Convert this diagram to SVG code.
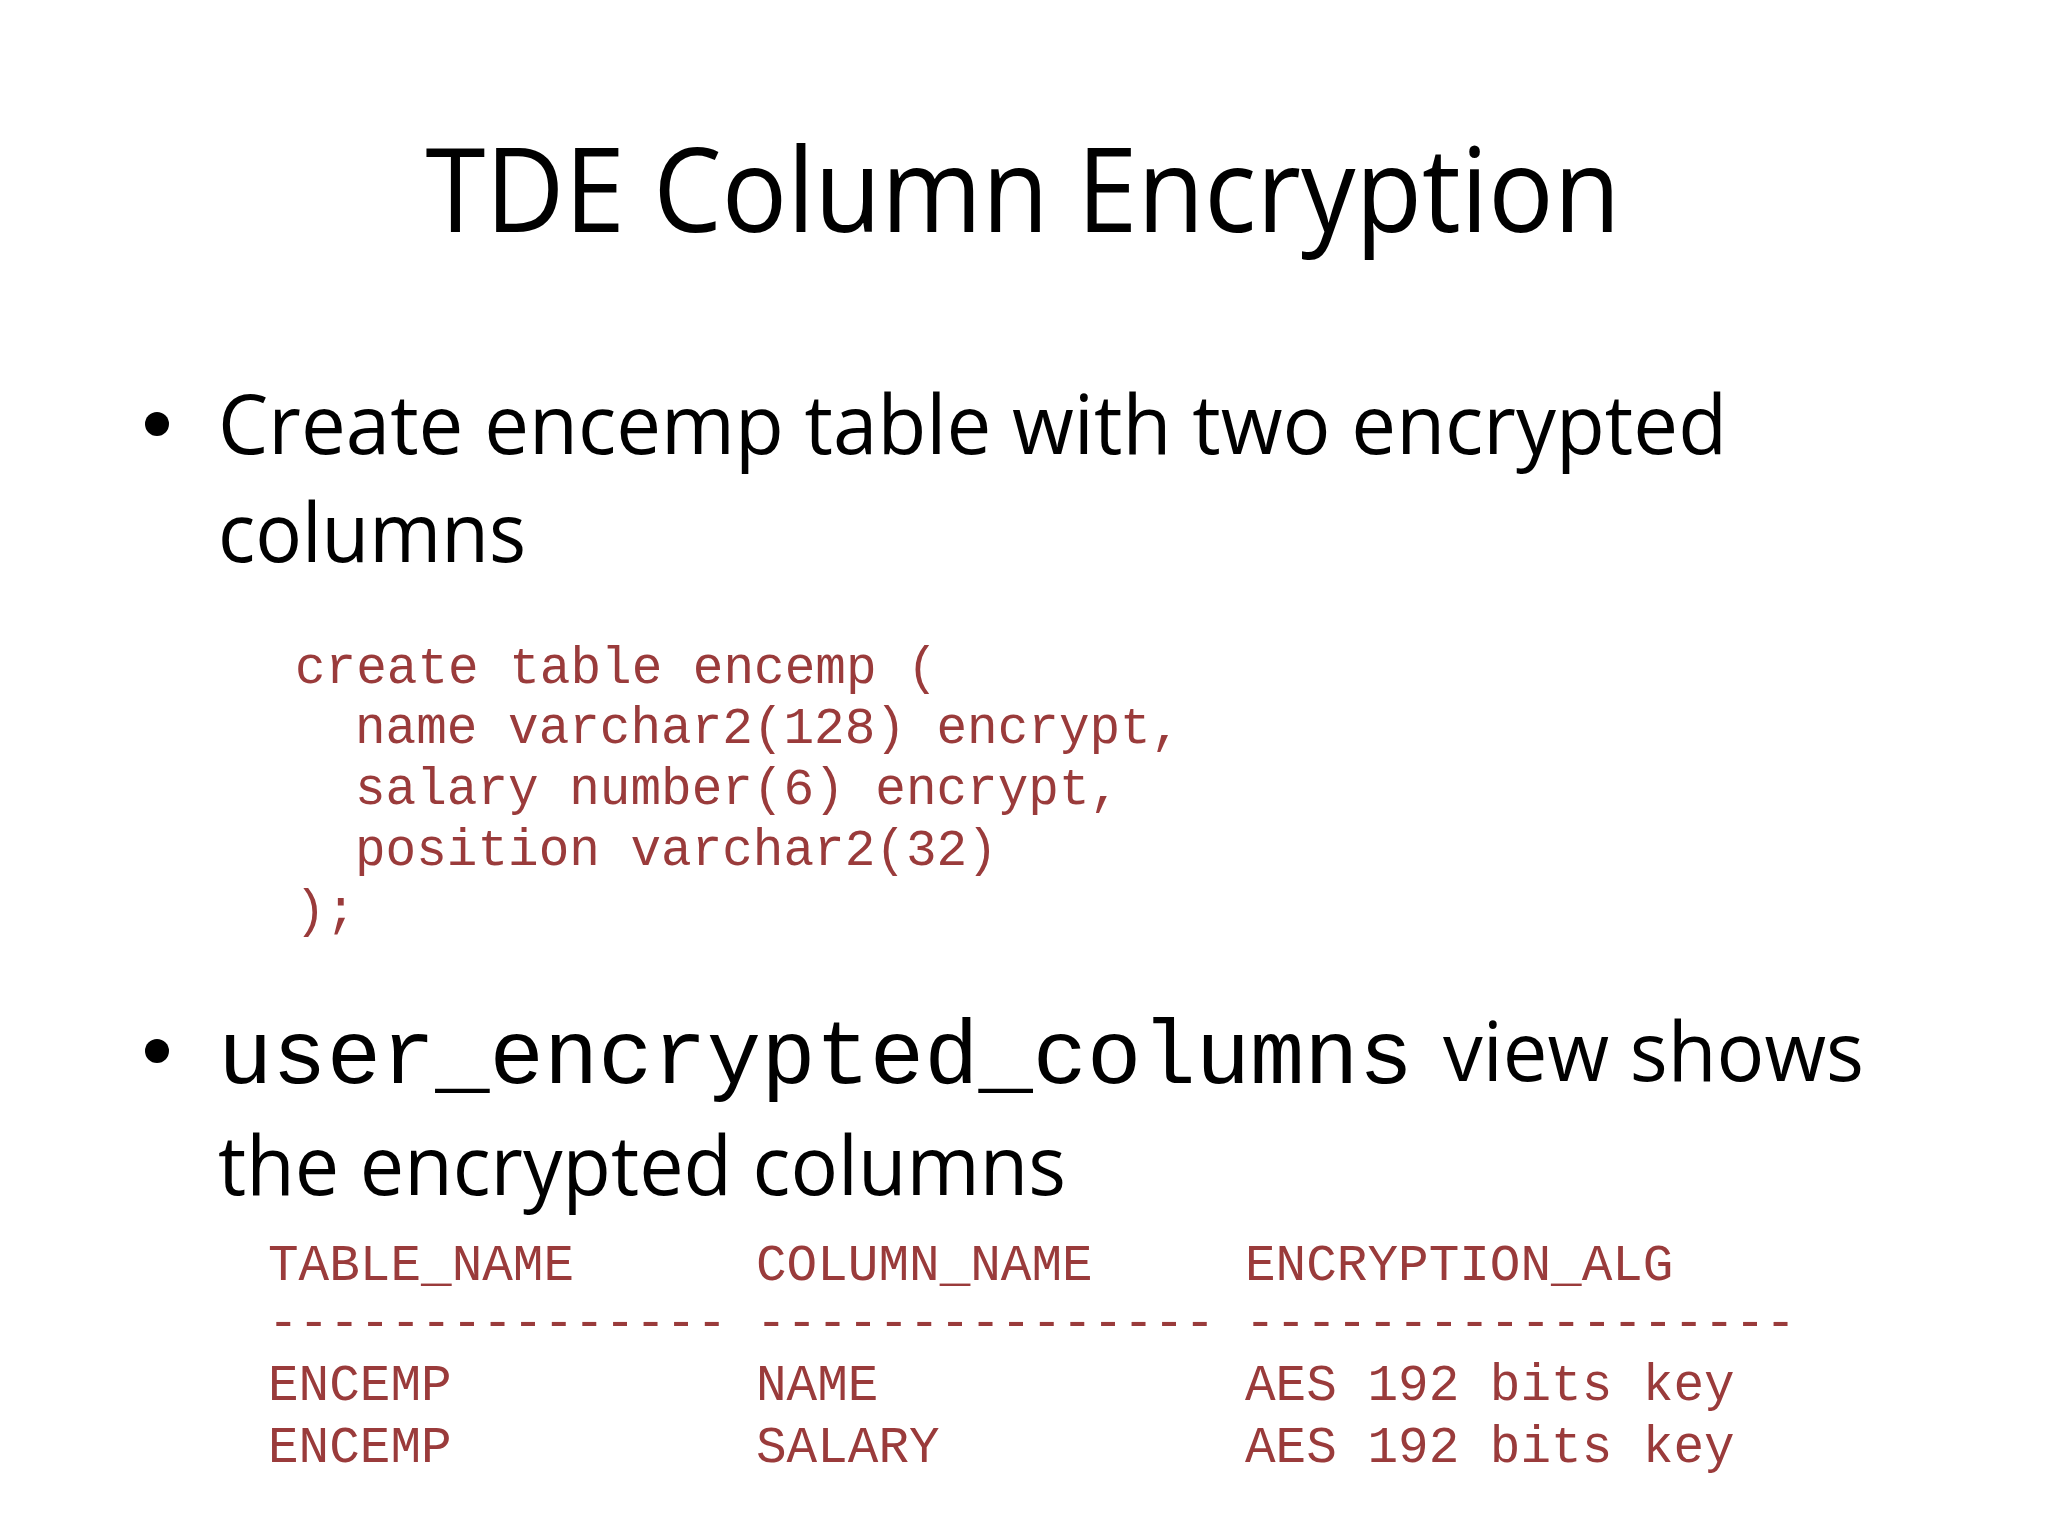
<svg xmlns="http://www.w3.org/2000/svg" width="2048" height="1536" viewBox="0 0 2048 1536">
<style>
.t{font-family:"Open Sans","Liberation Sans",sans-serif;fill:#000}
.c{font-family:"Liberation Mono",monospace;fill:#9a3b3b;font-size:51px;white-space:pre}
.m{font-family:"Liberation Mono",monospace;fill:#000}
</style>
<rect width="2048" height="1536" fill="#fff"/>
<g id="title"><text class="t" x="1023" y="232" font-size="118" text-anchor="middle" textLength="1195" lengthAdjust="spacingAndGlyphs">TDE Column Encryption</text></g>
<g id="bullet1">
<circle cx="157" cy="424" r="12" fill="#000"/>
<text class="t" x="218" y="454" font-size="82" textLength="1509" lengthAdjust="spacingAndGlyphs">Create encemp table with two encrypted</text>
<text class="t" x="218" y="562" font-size="82" textLength="308" lengthAdjust="spacingAndGlyphs">columns</text>
</g>
<g id="code">
<text class="c" x="295" y="683">create table encemp (</text>
<text class="c" x="355" y="743">name varchar2(128) encrypt,</text>
<text class="c" x="355" y="804">salary number(6) encrypt,</text>
<text class="c" x="355" y="865">position varchar2(32)</text>
<text class="c" x="295" y="926">);</text>
</g>
<g id="bullet2">
<circle cx="157" cy="1051" r="12" fill="#000"/>
<text class="m" x="218" y="1083" font-size="90" textLength="1195" lengthAdjust="spacingAndGlyphs">user_encrypted_columns</text>
<text class="t" x="1443" y="1081" font-size="82" textLength="421" lengthAdjust="spacingAndGlyphs">view shows</text>
<text class="t" x="218" y="1195" font-size="82" textLength="848" lengthAdjust="spacingAndGlyphs">the encrypted columns</text>
</g>
<g id="table">
<text class="c" x="268" y="1280">TABLE_NAME</text>
<text class="c" x="756" y="1280">COLUMN_NAME</text>
<text class="c" x="1245" y="1280">ENCRYPTION_ALG</text>
<text class="c" x="268" y="1338">---------------</text>
<text class="c" x="756" y="1338">---------------</text>
<text class="c" x="1245" y="1338">------------------</text>
<text class="c" x="268" y="1400">ENCEMP</text>
<text class="c" x="756" y="1400">NAME</text>
<text class="c" x="1245" y="1400">AES 192 bits key</text>
<text class="c" x="268" y="1462">ENCEMP</text>
<text class="c" x="756" y="1462">SALARY</text>
<text class="c" x="1245" y="1462">AES 192 bits key</text>
</g>
</svg>
